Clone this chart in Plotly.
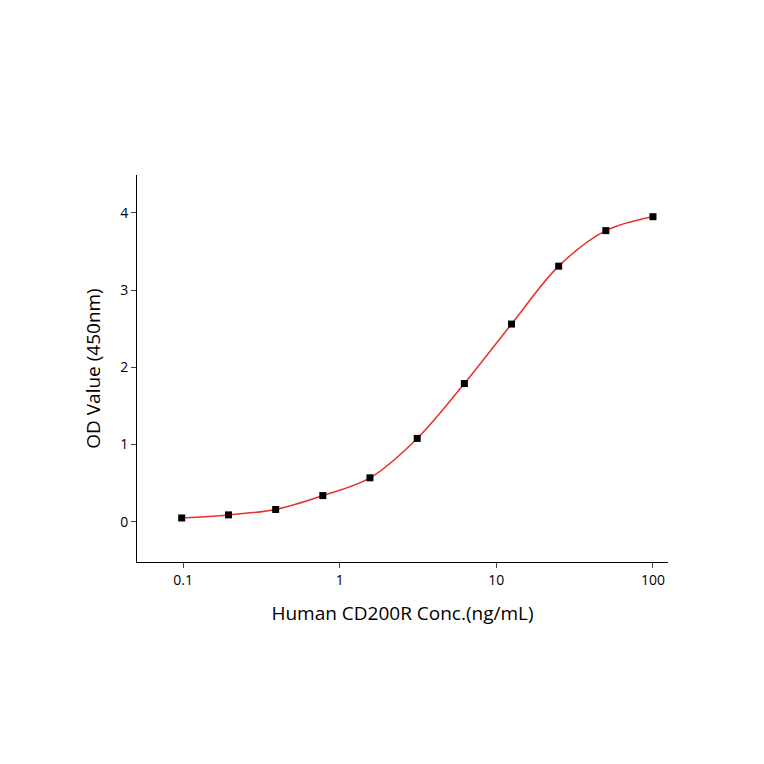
import plotly.graph_objects as go
import math

conc = [0.098, 0.195, 0.39, 0.78, 1.56, 3.125, 6.25, 12.5, 25, 50, 100]
od = [0.05, 0.09, 0.16, 0.34, 0.57, 1.08, 1.79, 2.56, 3.31, 3.77, 3.95]
xticks = [0.1, 1, 10, 100]
xticklabels = ["0.1", "1", "10", "100"]

fig = go.Figure()
fig.add_trace(go.Scatter(x=conc, y=od, mode="lines", line=dict(color="#e8302a", width=1.5, shape="spline", smoothing=1.0), showlegend=False))
fig.add_trace(go.Scatter(x=conc, y=od, mode="markers", marker=dict(symbol="square", size=7, color="black"), showlegend=False))
fig.update_layout(
    width=764, height=764, paper_bgcolor="white", plot_bgcolor="white",
    margin=dict(l=129, r=104, t=167, b=210),
    font=dict(family="Open Sans, sans-serif", color="black"),
    xaxis=dict(type="log", range=[math.log10(0.0508), math.log10(124.7)], tickvals=xticks, ticktext=xticklabels,
               showline=True, linecolor="black", linewidth=1, ticks="outside", ticklen=5, showgrid=False, zeroline=False,
               tickfont=dict(size=14), title=dict(text="Human CD200R Conc.(ng/mL)", font=dict(size=19), standoff=18)),
    yaxis=dict(range=[-0.52, 4.49], tickvals=[0, 1, 2, 3, 4], showline=True, linecolor="black", linewidth=1,
               ticks="outside", ticklen=5, showgrid=False, zeroline=False, tickfont=dict(size=14),
               title=dict(text="OD Value (450nm)", font=dict(size=19), standoff=14)),
)
fig.write_html("out.html")
